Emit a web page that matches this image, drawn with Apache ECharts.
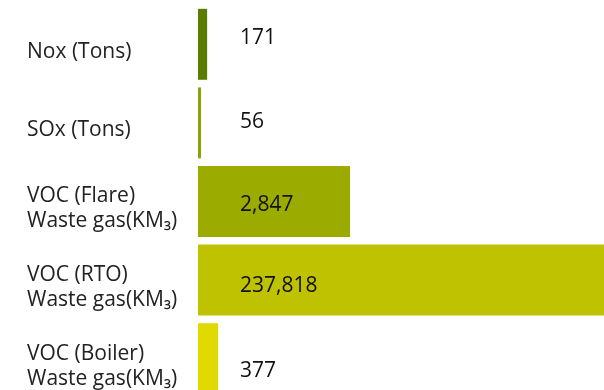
<!DOCTYPE html>
<html><head><meta charset="utf-8">
<script src="https://cdn.jsdelivr.net/npm/echarts@6/dist/echarts.min.js"></script>
<style>html,body{margin:0;padding:0;background:#fff;overflow:hidden}#c{width:604px;height:398px}</style>
</head><body><div id="c"></div>
<script>
const categories = ['Nox (Tons)', 'SOx (Tons)', 'VOC (Flare)\nWaste gas(KM₃)', 'VOC (RTO)\nWaste gas(KM₃)', 'VOC (Boiler)\nWaste gas(KM₃)'];
const values = [171, 56, 2847, 237818, 377];
const colors = ['#5a7d00', '#8aa400', '#9cab00', '#bfc200', '#e0da00'];
const labelDy = [-6, -1, 4, 6, 12];

const chart = echarts.init(document.getElementById('c'), null, {renderer: 'canvas'});
chart.setOption({
  animation: false,
  grid: {left: 198, right: 0, top: 5, bottom: 0, containLabel: false},
  xAxis: {type: 'value', min: 0, max: 7600, show: false},
  yAxis: {
    type: 'category', inverse: true, data: categories,
    axisLine: {show: false}, axisTick: {show: false},
    axisLabel: {
      align: 'left', margin: 171, color: '#222', fontFamily: 'Open Sans', fontSize: 21, lineHeight: 25,
      formatter: v => v.split('\n').map(s => '{t|' + s + '}').join('\n'),
      rich: {t: {color: '#222', fontFamily: 'Open Sans', fontSize: 21, lineHeight: 25, padding: [15, 0, 0, 0]}}
    }
  },
  series: [{
    type: 'bar', barCategoryGap: '9.7%', clip: true,
    data: values.map((v, i) => ({
      value: v,
      itemStyle: {color: colors[i]},
      label: {offset: [0, labelDy[i]]}
    })),
    label: {
      show: true, position: 'insideLeft', distance: 42,
      color: '#111', fontFamily: 'Open Sans', fontSize: 21,
      formatter: p => p.value.toLocaleString('en-US')
    }
  }]
});
</script></body></html>
